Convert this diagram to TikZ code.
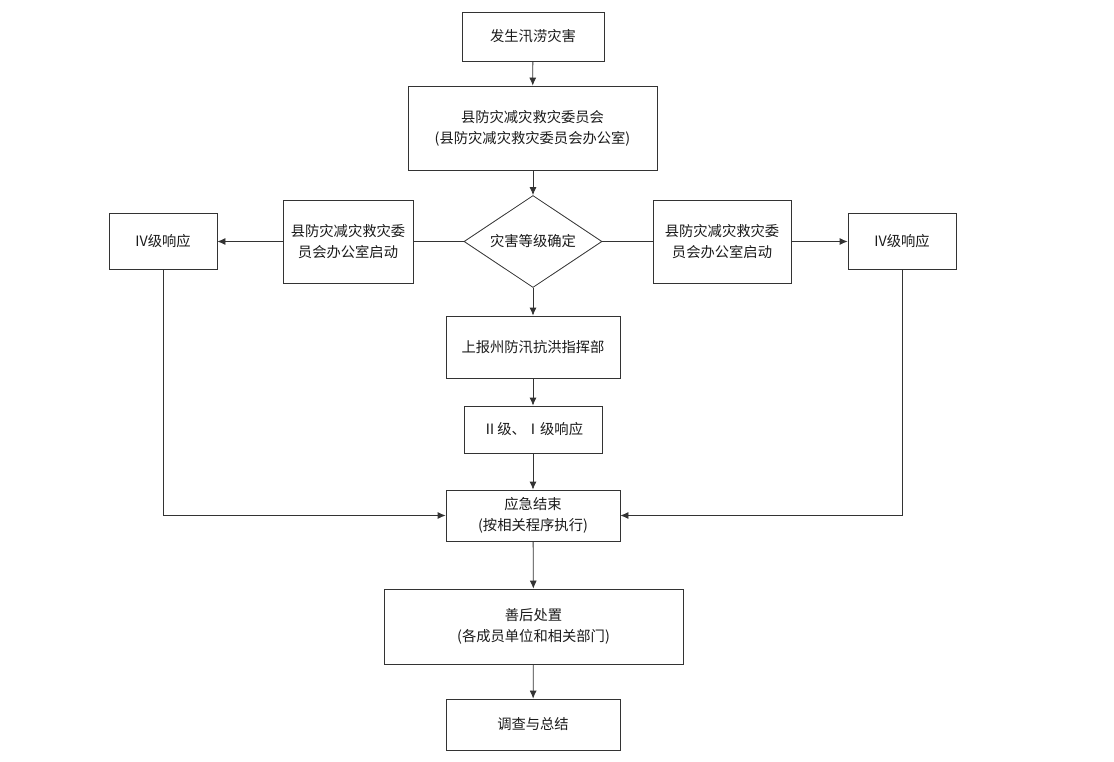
\documentclass[tikz,border=0pt]{standalone}
\usepackage{fontspec}
\setmainfont{Noto Sans CJK SC}
\usetikzlibrary{shapes.geometric,arrows.meta}
\definecolor{ln}{HTML}{333333}
\definecolor{tx}{HTML}{1a1a1a}
\begin{document}
\begin{tikzpicture}[x=1pt,y=-1pt,
  every node/.style={font=\fontsize{14.3}{21}\selectfont, text=tx, align=center, inner sep=0pt},
  box/.style={draw=ln, line width=0.8pt, rectangle},
  conn/.style={draw=ln, line width=0.8pt},
  arr/.style={conn, -{Latex[length=8pt,width=7pt]}}]
\useasboundingbox (0,0) rectangle (1114,762);
\node[box, minimum width=142, minimum height=49] (n1) at (533,36.5) {发生汛涝灾害};
\node[box, minimum width=249, minimum height=84] (n2) at (532.5,128) {县防灾减灾救灾委员会\\(县防灾减灾救灾委员会办公室)};
\node[draw=ln, line width=0.8pt, minimum width=138, minimum height=92, shape=diamond, aspect=1.5, inner sep=0pt] (d) at (533,241.5) {};
\node at (533,241.5) {灾害等级确定};
\node[box, minimum width=130, minimum height=83] (lb) at (348,241.5) {县防灾减灾救灾委\\员会办公室启动};
\node[box, minimum width=108, minimum height=56] (l4) at (163,241.5) {IV级响应};
\node[box, minimum width=138, minimum height=83] (rb) at (722,241.5) {县防灾减灾救灾委\\员会办公室启动};
\node[box, minimum width=108, minimum height=56] (r4) at (902,241.5) {IV级响应};
\node[box, minimum width=174, minimum height=62] (n3) at (533,347) {上报州防汛抗洪指挥部};
\node[box, minimum width=138, minimum height=47] (n4) at (533,429.5) {Ⅱ级、Ⅰ级响应};
\node[box, minimum width=174, minimum height=51] (n5) at (533,515.5) {应急结束\\(按相关程序执行)};
\node[box, minimum width=299, minimum height=75] (n6) at (533.5,626.5) {善后处置\\(各成员单位和相关部门)};
\node[box, minimum width=174, minimum height=51] (n7) at (533,724.5) {调查与总结};
\draw[arr] (n1) -- (n2);
\draw[arr] (n2.south -| d.north) -- (d.north);
\draw[conn] (d.west) -- (lb.east);
\draw[arr] (lb.west) -- (l4.east);
\draw[conn] (d.east) -- (rb.west);
\draw[arr] (rb.east) -- (r4.west);
\draw[arr] (d.south) -- (n3.north);
\draw[arr] (n3) -- (n4);
\draw[arr] (n4) -- (n5);
\draw[arr] (l4.south) |- (n5.west);
\draw[arr] (r4.south) |- (n5.east);
\draw[arr] (n5) -- (n6);
\draw[arr] (n6) -- (n7);
\end{tikzpicture}
\end{document}
